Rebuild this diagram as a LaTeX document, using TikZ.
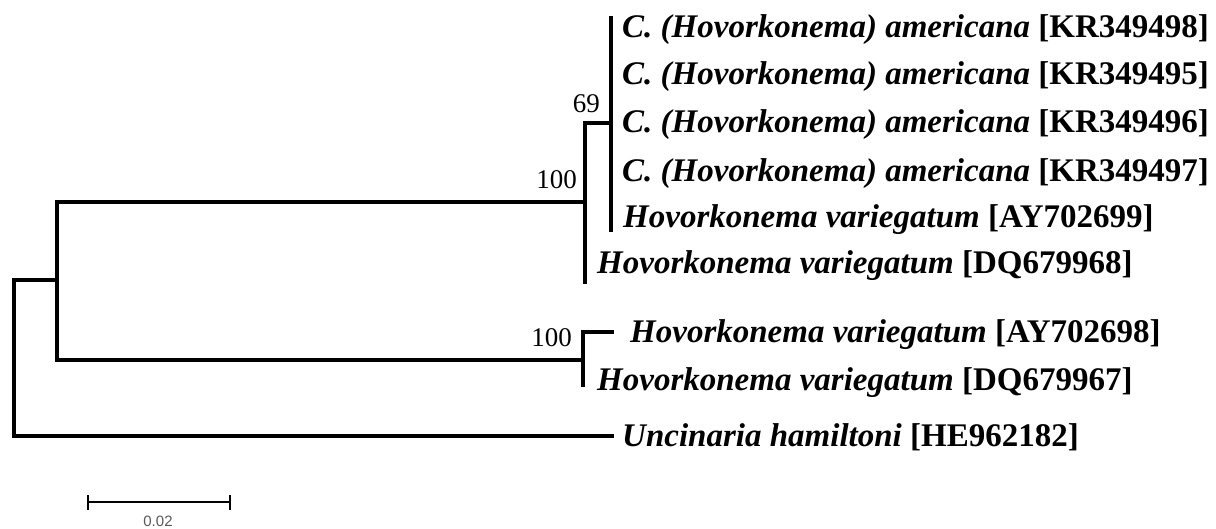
\documentclass[tikz,border=0pt]{standalone}
\usepackage{fontspec}
\setmainfont{Liberation Serif}
\newfontfamily\scalefont{Liberation Sans}
\begin{document}
\begin{tikzpicture}[x=1pt,y=-1pt,
  branch/.style={line width=3.4pt,line cap=rect,line join=miter},
  taxon/.style={anchor=base west,inner sep=0pt,font=\fontsize{33}{38}\selectfont\bfseries\itshape},
  boot/.style={anchor=base east,inner sep=0pt,font=\fontsize{27}{32}\selectfont},
  scalebar/.style={line width=2.6pt}]
\useasboundingbox (0,0) rectangle (1216,529);
% internal nodes
\coordinate (rootT) at (14,280);
\coordinate (rootB) at (14,436);
\coordinate (A) at (57,280);
\coordinate (AT) at (57,202);
\coordinate (AB) at (57,360);
\coordinate (B) at (585,202);
\coordinate (BT) at (585,123);
\coordinate (BB) at (585,282);
\coordinate (C) at (611,123);
\coordinate (CT) at (611,18);
\coordinate (CB) at (611,230);
\coordinate (D) at (583,360);
\coordinate (DT) at (583,332);
\coordinate (DB) at (583,385);
\coordinate (leafAY698) at (612,332);
\coordinate (leafUnc) at (612,436);
% tree
\draw[branch] (leafUnc) -- (rootB) -- (rootT) -- (A);
\draw[branch] (AT) -- (AB);
\draw[branch] (AT) -- (B);
\draw[branch] (AB) -- (D);
\draw[branch] (BT) -- (BB);
\draw[branch] (BT) -- (C);
\draw[branch] (CT) -- (CB);
\draw[branch] (DT) -- (DB);
\draw[branch] (DT) -- (leafAY698);
% labels
\node[taxon] (t1) at (622,38) {C. (Hovorkonema) americana \textup{[KR349498]}};
\node[taxon] (t2) at (622,85) {C. (Hovorkonema) americana \textup{[KR349495]}};
\node[taxon] (t3) at (622,133) {C. (Hovorkonema) americana \textup{[KR349496]}};
\node[taxon] (t4) at (622,182) {C. (Hovorkonema) americana \textup{[KR349497]}};
\node[taxon] (t5) at (623,228) {Hovorkonema variegatum \textup{[AY702699]}};
\node[taxon] (t6) at (597,274) {Hovorkonema variegatum \textup{[DQ679968]}};
\node[taxon] (t7) at (630,343) {Hovorkonema variegatum \textup{[AY702698]}};
\node[taxon] (t8) at (597,390) {Hovorkonema variegatum \textup{[DQ679967]}};
\node[taxon] (t9) at (622,446) {Uncinaria hamiltoni \textup{[HE962182]}};
% bootstrap values
\node[boot] (b69) at (600,113) {69};
\node[boot] (b100a) at (577,189) {100};
\node[boot] (b100b) at (572,347) {100};
% scale bar
\coordinate (sL) at (88,502);
\coordinate (sR) at (230,502);
\draw[scalebar] (sL) -- (sR);
\draw[scalebar] ([yshift=-7.5]sL) -- ([yshift=7.5]sL);
\draw[scalebar] ([yshift=-7.5]sR) -- ([yshift=7.5]sR);
\node[font=\scalefont\fontsize{15}{18}\selectfont,text=black!65,inner sep=0pt] (slab) at (158,521.5) {0.02};
\end{tikzpicture}
\end{document}
